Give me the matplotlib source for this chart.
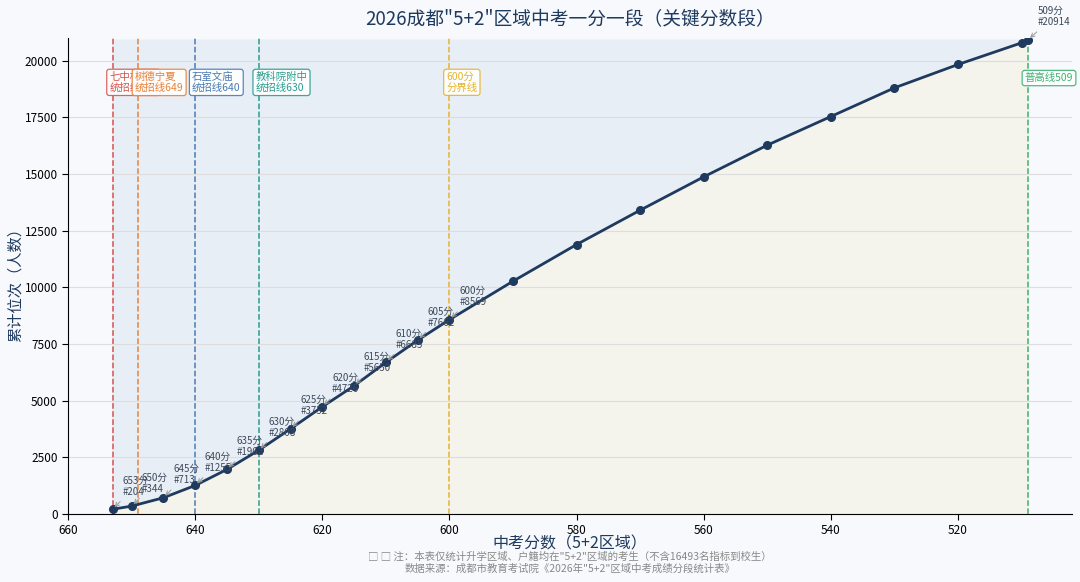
import matplotlib
matplotlib.use("Agg")
import matplotlib.pyplot as plt
import numpy as np

plt.rcParams['font.family'] = ['Noto Sans CJK SC', 'DejaVu Sans']

# ----- DATA -----
scores = [653, 650, 645, 640, 635, 630, 625, 620, 615, 610, 605, 600,
          590, 580, 570, 560, 550, 540, 530, 520, 510, 509]
ranks = [204, 344, 713, 1255, 1962, 2808, 3752, 4726, 5650, 6685, 7662, 8569,
         10265, 11882, 13397, 14868, 16265, 17529, 18794, 19824, 20779, 20914]
# points that get a "xxx分 #rank" label
labelled = [653, 650, 645, 640, 635, 630, 625, 620, 615, 610, 605, 600, 509]

cut_scores = [653, 649, 640, 630, 600, 509]
cut_names = ["七中林荫\n统招线653", "树德宁夏\n统招线649", "石室文庙\n统招线640",
             "教科院附中\n统招线630", "600分\n分界线", "普高线509"]
cut_colors = ["#d9534f", "#e8833a", "#4a7ab5", "#2a9d8f", "#e6b32e", "#3cb371"]

NAVY = "#1f3a5f"
BG = "#f7f9fc"

fig = plt.figure(figsize=(10.8, 5.82), dpi=100, facecolor=BG)
ax = fig.add_axes([0.063, 0.117, 0.93, 0.818])
ax.set_facecolor(BG)

x = np.array(scores)
y = np.array(ranks)

# shading above / below the curve
ax.fill_between(x, y, y.max(), color="#e8eef5", zorder=0)
ax.fill_between(x, 0, y, color="#f4f3ec", zorder=0)

ax.plot(x, y, color=NAVY, lw=2, marker="o", ms=5.5, zorder=5)

# cut-off lines
for s, name, c in zip(cut_scores, cut_names, cut_colors):
    ax.axvline(s, color=c, ls="--", lw=1.1, zorder=3)
    ty = 19500 if "\n" in name else 19450
    ax.text(s + 0.5, ty, name, color=c, fontsize=7.5, ha="left", va="top",
            linespacing=1.1, zorder=6,
            bbox=dict(boxstyle="round,pad=0.25", fc="white", ec=c, lw=0.9, alpha=0.9))

# point labels
for s, r in zip(scores, ranks):
    if s not in labelled:
        continue
    ax.annotate(f"{s}分\n#{r}", xy=(s, r), xytext=(7, 9), textcoords="offset points",
                fontsize=7, color="#3d4a5c", ha="left", va="bottom", linespacing=1.15,
                arrowprops=dict(arrowstyle="->", color="#999999", lw=0.7), zorder=7)

ax.set_xlim(660, 502)
ax.set_ylim(0, 21000)
ax.set_xticks([660, 640, 620, 600, 580, 560, 540, 520])
ax.set_yticks(np.arange(0, 20001, 2500))
ax.tick_params(labelsize=8.5, length=4)
ax.grid(axis="y", color="#dddddd", lw=0.8, zorder=1)
ax.set_axisbelow(True)
for side in ["top", "right"]:
    ax.spines[side].set_visible(False)

ax.set_xlabel("中考分数（5+2区域）", fontsize=11.5, color=NAVY, va="center")
ax.xaxis.set_label_coords(0.5, -0.064)
ax.set_ylabel("累计位次（人数）", fontsize=11, color=NAVY, va="center")
ax.yaxis.set_label_coords(-0.053, 0.49)
ax.set_title("2026成都\"5+2\"区域中考一分一段（关键分数段）",
             fontsize=13.5, color=NAVY, pad=9)

cx = 0.528
fig.text(cx, 0.044, "□ □ 注：本表仅统计升学区域、户籍均在\"5+2\"区域的考生（不含16493名指标到校生）",
         fontsize=7.5, color="#888888", ha="center", va="center")
fig.text(cx, 0.023, "数据来源：成都市教育考试院《2026年\"5+2\"区域中考成绩分段统计表》",
         fontsize=7.5, color="#888888", ha="center", va="center")

fig.savefig("out.png", dpi=100, facecolor=BG)
